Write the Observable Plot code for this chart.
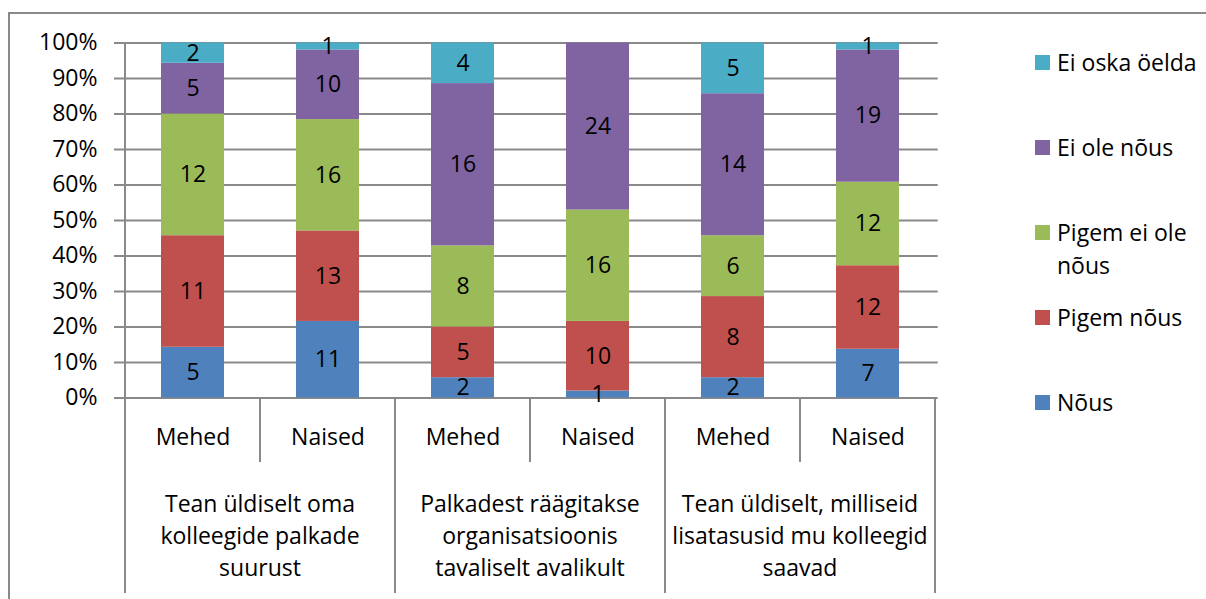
<!DOCTYPE html>
<html><head><meta charset="utf-8">
<script src="https://cdn.jsdelivr.net/npm/d3@7"></script>
<script src="https://cdn.jsdelivr.net/npm/@observablehq/plot@0.6"></script>
<style>
body{margin:0;background:#fff;overflow:hidden;font-family:"Open Sans",sans-serif;}
#wrap{position:relative;width:1206px;height:599px;overflow:hidden;}
#frame{position:absolute;left:8px;top:12px;width:1300px;height:700px;border:2px solid #898989;}
#chart{position:absolute;left:0;top:0;}
#legend{position:absolute;left:1035px;top:45.5px;}
.item{display:flex;align-items:flex-start;height:85px;}
.sw{width:15px;height:15px;margin-top:9px;margin-right:7px;flex:none;}
.lab{font-size:23px;line-height:33px;max-width:160px;color:#000;}
</style>
</head><body>
<div id="wrap"><div id="frame"></div><div id="chart"></div><div id="legend"></div></div>
<script>
const groups = ["Tean üldiselt oma\nkolleegide palkade\nsuurust", "Palkadest räägitakse\norganisatsioonis\ntavaliselt avalikult", "Tean üldiselt, milliseid\nlisatasusid mu kolleegid\nsaavad"];
const sexes = ["Mehed", "Naised"];
const answers = ["Nõus", "Pigem nõus", "Pigem ei ole nõus", "Ei ole nõus", "Ei oska öelda"];
const colors = ["#4F81BD", "#C0504D", "#9BBB59", "#8064A2", "#4BACC6"];
// counts per bar: order = group1 Mehed, group1 Naised, group2 Mehed, group2 Naised, group3 Mehed, group3 Naised
const nous       = [5, 11, 2, 1, 2, 7];
const pigemNous  = [11, 13, 5, 10, 8, 12];
const pigemEiOle = [12, 16, 8, 16, 6, 12];
const eiOle      = [5, 10, 16, 24, 14, 19];
const eiOska     = [2, 1, 4, 0, 5, 1];
const yTicks = [0, 0.1, 0.2, 0.3, 0.4, 0.5, 0.6, 0.7, 0.8, 0.9, 1];

const series = [nous, pigemNous, pigemEiOle, eiOle, eiOska];
const bars = [];
groups.forEach((g, gi) => sexes.forEach(s => bars.push({key: gi + "|" + s, group: g, gi, sex: s})));
const keys = bars.map(b => b.key);
const rows = [];
bars.forEach((b, bi) => answers.forEach((a, ai) => rows.push({key: b.key, answer: a, count: series[ai][bi]})));

const gray = "#898989";
const FS = 23;
const plot = Plot.plot({
  width: 1206, height: 599,
  marginLeft: 123, marginRight: 268.3, marginTop: 42.5, marginBottom: 201.5,
  style: {fontFamily: '"Open Sans", sans-serif', fontSize: FS + "px", color: "#000", background: "transparent", overflow: "visible"},
  x: {domain: keys, paddingInner: 0.53, paddingOuter: 0.265, axis: null},
  y: {domain: [0, 1], axis: null},
  color: {domain: answers, range: colors},
  marks: [
    Plot.gridY(yTicks, {stroke: gray, strokeOpacity: 1, strokeWidth: 2}),
    Plot.axisY(yTicks, {label: null, tickSize: 9, tickPadding: 17, stroke: gray, strokeWidth: 2, fontSize: FS, tickFormat: d => Math.round(d * 100) + "%"}),
    Plot.barY(rows, Plot.stackY({offset: "normalize", order: answers, x: "key", y: "count", fill: "answer"})),
    Plot.text(rows.filter(d => d.count > 0), Plot.stackY({offset: "normalize", order: answers, x: "key", y: "count", z: "answer", text: d => String(d.count), fill: "#000", fontSize: FS})),
    Plot.text(bars, {x: "key", text: "sex", frameAnchor: "bottom", lineAnchor: "middle", dy: 40, fontSize: FS, fill: "#000"})
  ]
});
document.getElementById("chart").appendChild(plot);

// category box lines and group labels from the library's scales
const xs = plot.scale("x"), ys = plot.scale("y");
const step = xs.step, bw = xs.bandwidth;
const left0 = xs.apply(keys[0]) - (step - bw) / 2;
const y0 = ys.apply(0), y1 = ys.apply(1);
const bottom = 593, shortEnd = 462;
const svg = d3.select(plot);
const g = svg.append("g").attr("stroke", gray).attr("stroke-width", 2);
for (let i = 0; i <= keys.length; i++) {
  const bx = left0 + i * step;
  const top = i === 0 ? y1 : y0;
  const end = i % 2 === 0 ? bottom : shortEnd;
  g.append("line").attr("x1", bx).attr("x2", bx).attr("y1", top).attr("y2", end);
}
const tg = svg.append("g").attr("font-size", FS).attr("text-anchor", "middle").attr("fill", "#000");
groups.forEach((label, gi) => {
  const cx = left0 + (gi * 2 + 1) * step;
  const t = tg.append("text");
  label.split("\n").forEach((line, li) => {
    t.append("tspan").attr("x", cx).attr("y", 505 + li * 32).attr("dy", "0.32em").text(line);
  });
});

// legend (top item first)
const legend = d3.select("#legend");
answers.slice().reverse().forEach(a => {
  const it = legend.append("div").attr("class", "item");
  it.append("div").attr("class", "sw").style("background", colors[answers.indexOf(a)]);
  it.append("div").attr("class", "lab").text(a);
});
</script>
</body></html>
